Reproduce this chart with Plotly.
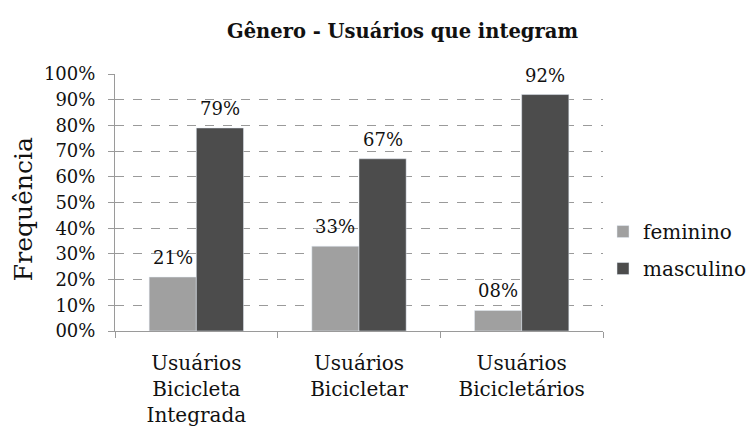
import plotly.graph_objects as go

categories = ["Usuários<br>Bicicleta<br>Integrada", "Usuários<br>Bicicletar", "Usuários<br>Bicicletários"]
feminino = [0.21, 0.33, 0.08]
masculino = [0.79, 0.67, 0.92]
fem_labels = ["21%", "33%", "08%"]
masc_labels = ["79%", "67%", "92%"]
ytickvals = [0, 0.1, 0.2, 0.3, 0.4, 0.5, 0.6, 0.7, 0.8, 0.9, 1.0]
yticktext = ["00%", "10%", "20%", "30%", "40%", "50%", "60%", "70%", "80%", "90%", "100%"]

FONT = "DejaVu Serif"
BARGAP = 0.42

fig = go.Figure()
fig.add_trace(go.Bar(x=categories, y=feminino, name="feminino",
                     marker_color="#a0a0a0", legendgroup="f"))
fig.add_trace(go.Bar(x=categories, y=masculino, name="masculino",
                     marker_color="#4c4c4c", legendgroup="m"))

# data labels above each bar, placed in data coordinates
half = (1 - BARGAP) / 4
annots = []
for i in range(len(categories)):
    for val, lab, off in ((feminino[i], fem_labels[i], -half), (masculino[i], masc_labels[i], half)):
        annots.append(dict(x=i + off, y=val, xref="x", yref="y", text=lab, showarrow=False,
                           yanchor="bottom", xanchor="center", yshift=7,
                           font=dict(family=FONT, size=18, color="#111")))

annots += [
    dict(text="<b>Gênero - Usuários que integram</b>", xref="paper", yref="paper",
         x=0.589, y=1.0, yshift=43, showarrow=False, xanchor="center", yanchor="middle",
         font=dict(family=FONT, size=19.5, color="#111")),
    dict(text="Frequência", xref="paper", yref="paper", x=-0.186, y=0.475,
         showarrow=False, textangle=-90, xanchor="center", yanchor="middle",
         font=dict(family=FONT, size=25, color="#111")),
]

fig.update_layout(
    width=752, height=434,
    margin=dict(l=115, r=149, t=74, b=103, autoexpand=False),
    paper_bgcolor="white", plot_bgcolor="white",
    font=dict(family=FONT, size=18, color="#111"),
    barmode="group", bargap=BARGAP, bargroupgap=0,
    showlegend=True,
    legend=dict(x=1.0, y=0.315, xanchor="left", yanchor="middle",
                font=dict(family=FONT, size=20, color="#111"),
                traceorder="grouped", tracegroupgap=8, itemwidth=30),
    annotations=annots,
)
fig.update_yaxes(range=[0, 1.0], tickvals=ytickvals, ticktext=yticktext, automargin=False,
                 showgrid=True, gridcolor="#9a9a9a", griddash="dash", gridwidth=1,
                 showline=True, linecolor="#9a9a9a", linewidth=1,
                 ticks="outside", ticklen=6, tickcolor="#9a9a9a", ticklabelstandoff=9,
                 tickfont=dict(family=FONT, size=18, color="#111"), zeroline=False)
fig.update_xaxes(showline=True, linecolor="#9a9a9a", linewidth=1, automargin=False,
                 ticks="outside", ticklen=6, tickcolor="#9a9a9a", tickson="boundaries",
                 ticklabelstandoff=14,
                 tickfont=dict(family=FONT, size=20, color="#111"), showgrid=False)

fig.write_html("out.html", config={"displayModeBar": False},
               post_script="document.body.style.margin='0';")
